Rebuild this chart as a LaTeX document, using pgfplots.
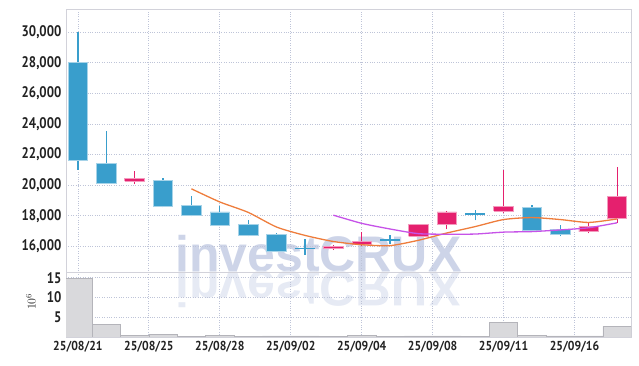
\documentclass[border=0pt]{standalone}
\usepackage{fontspec}
\setmainfont{PT Sans}
\newfontfamily\wmfont{Liberation Sans}
\usepackage{pgfplots}
\pgfplotsset{compat=1.18}
\definecolor{cblue}{HTML}{399ECC}
\definecolor{cpink}{HTML}{E5206E}
\definecolor{ma5}{HTML}{EE7D3C}
\definecolor{ma10}{HTML}{C653E8}
\definecolor{gridc}{HTML}{BEC4D8}
\definecolor{bordc}{HTML}{D2D2DA}
\definecolor{labc}{HTML}{222222}
\definecolor{wm}{HTML}{CDD4E8}
\definecolor{volf}{HTML}{D9D9DC}
\definecolor{vold}{HTML}{B4B4BA}
\begin{document}
\begin{tikzpicture}
\path[use as bounding box] (0bp,0bp) rectangle (639bp,366bp);
% watermark
\node[anchor=base west, inner sep=0, text=wm, font=\wmfont\bfseries\fontsize{50bp}{50bp}\selectfont] at (175bp,94bp) {investCRUX};
\node[anchor=base west, inner sep=0, yscale=-1, text=wm!50!white, font=\wmfont\bfseries\fontsize{50bp}{50bp}\selectfont] at (175bp,94bp) {investCRUX};
\begin{axis}[
  at={(66bp,93.3bp)}, anchor=south west,
  scale only axis, width=565bp, height=263.7bp,
  xmin=-0.42, xmax=19.49, ymin=14273, ymax=31524,
  xtick={0,2.5,5,7.5,10,12.5,15,17.5}, xticklabels={},
  ytick={16000,18000,20000,22000,24000,26000,28000,30000},
  scaled y ticks=false,
  tick label style={font=\bfseries\fontsize{15.3bp}{15bp}\selectfont, text=labc, xscale=0.84},
  yticklabel style={xshift=-2bp, /pgf/number format/fixed, /pgf/number format/1000 sep={,}, /pgf/number format/assume math mode=true},
  grid=major, grid style={dotted, gridc, line width=0.8bp},
  major tick length=0,
  axis line style={bordc, line width=0.8bp},
  unbounded coords=jump,
]
% wicks (low, high)
\addplot[cblue, line width=1.2bp, mark=none] coordinates {
(0,21000) (0,30000) (0,nan) (1,20050) (1,23550) (1,nan) (3,18550) (3,20500) (3,nan)
(4,17950) (4,19300) (4,nan) (5,17300) (5,18650) (5,nan) (6,16650) (6,17700) (6,nan)
(7,15600) (7,16850) (7,nan) (8,15450) (8,16500) (8,nan) (11,16150) (11,16750) (11,nan)
(14,17700) (14,18400) (14,nan) (16,17050) (16,18700) (16,nan) (17,16650) (17,17400)};
\addplot[cpink, line width=1.2bp, mark=none] coordinates {
(2,20050) (2,20900) (2,nan) (9,15750) (9,16100) (9,nan) (10,16000) (10,16950) (10,nan)
(12,16600) (12,17450) (12,nan) (13,17100) (13,18300) (13,nan) (15,18150) (15,21000) (15,nan)
(18,16850) (18,17600) (18,nan) (19,17550) (19,21200)};
% bodies, falling days (open above close)
\addplot[fill=cblue, draw=cblue!45!white, line width=0.8bp, mark=none] coordinates {
(-0.345,21650) (0.345,21650) (0.345,28000) (-0.345,28000) (-0.345,21650) (0,nan)
(0.655,20100) (1.345,20100) (1.345,21400) (0.655,21400) (0.655,20100) (1,nan)
(2.655,18600) (3.345,18600) (3.345,20300) (2.655,20300) (2.655,18600) (3,nan)
(3.655,18000) (4.345,18000) (4.345,18650) (3.655,18650) (3.655,18000) (4,nan)
(4.655,17350) (5.345,17350) (5.345,18250) (4.655,18250) (4.655,17350) (5,nan)
(5.655,16700) (6.345,16700) (6.345,17450) (5.655,17450) (5.655,16700) (6,nan)
(6.655,15650) (7.345,15650) (7.345,16750) (6.655,16750) (6.655,15650) (7,nan)
(15.655,17050) (16.345,17050) (16.345,18550) (15.655,18550) (15.655,17050) (16,nan)
(16.655,16750) (17.345,16750) (17.345,17100) (16.655,17100) (16.655,16750)};
% bodies, rising days
\addplot[fill=cpink, draw=cpink!45!white, line width=0.8bp, mark=none] coordinates {
(1.655,20250) (2.345,20250) (2.345,20450) (1.655,20450) (1.655,20250) (2,nan)
(8.655,15850) (9.345,15850) (9.345,16000) (8.655,16000) (8.655,15850) (9,nan)
(9.655,16100) (10.345,16100) (10.345,16300) (9.655,16300) (9.655,16100) (10,nan)
(11.655,16650) (12.345,16650) (12.345,17400) (11.655,17400) (11.655,16650) (12,nan)
(12.655,17400) (13.345,17400) (13.345,18250) (12.655,18250) (12.655,17400) (13,nan)
(14.655,18300) (15.345,18300) (15.345,18600) (14.655,18600) (14.655,18300) (15,nan)
(17.655,16950) (18.345,16950) (18.345,17300) (17.655,17300) (17.655,16950) (18,nan)
(18.655,17800) (19.345,17800) (19.345,19250) (18.655,19250) (18.655,17800)};
% unchanged days (open = close)
\addplot[cblue, line width=1.5bp, mark=none] coordinates {
(7.655,15870) (8.345,15870) (8,nan) (10.655,16400) (11.345,16400) (11,nan)
(13.655,18100) (14.345,18100)};
% moving averages
\addplot[ma5, line width=1.3bp, smooth, tension=0.4, mark=none] coordinates {
(4,19760) (5,18900) (6,18220) (7,17260) (8,16714) (9,16314) (10,16104) (11,16044)
(12,16394) (13,16870) (14,17290) (15,17750) (16,17880) (17,17750) (18,17560) (19,17790)};
\addplot[ma10, line width=1.3bp, smooth, tension=0.4, mark=none] coordinates {
(9,18037) (10,17502) (11,17132) (12,16827) (13,16792) (14,16802) (15,16927) (16,16962)
(17,17072) (18,17213) (19,17538)};
\end{axis}
\begin{axis}[
  at={(66bp,29bp)}, anchor=south west,
  scale only axis, width=565bp, height=64.3bp,
  xmin=-0.42, xmax=19.49, ymin=0, ymax=16.28,
  xtick={0,2.5,5,7.5,10,12.5,15,17.5},
  xticklabels={25/08/21,25/08/25,25/08/28,25/09/02,25/09/04,25/09/08,25/09/11,25/09/16},
  ytick={5,10,15},
  yticklabel style={font=\bfseries\fontsize{15.3bp}{15bp}\selectfont, text=labc, xscale=0.84, xshift=-2bp, /pgf/number format/assume math mode=true},
  xticklabel style={font=\bfseries\fontsize{13bp}{13bp}\selectfont, text=labc, xscale=0.9, yshift=-1bp},
  ylabel={$10^6$},
  every axis y label/.style={at={(rel axis cs:0,0.55)}, xshift=-35bp, rotate=90, anchor=center, font=\fontsize{12bp}{12bp}\selectfont, text=labc},
  grid=major, grid style={dotted, gridc, line width=0.8bp},
  major tick length=0,
  axis line style={bordc, line width=0.8bp},
  ybar, bar width=1,
]
\addplot[fill=volf, draw=vold, line width=0.6bp, bar shift=0] coordinates {
(0,14.85) (1,3.2) (2,0.5) (3,0.75) (4,0.25) (5,0.5) (6,0.25) (7,0.3) (8,0.3) (9,0.2)
(10,0.35) (11,0.2) (12,0.3) (13,0.3) (14,0.15) (15,3.7) (16,0.5) (17,0.3) (18,0.3) (19,2.7)};
\end{axis}
\end{tikzpicture}
\end{document}
